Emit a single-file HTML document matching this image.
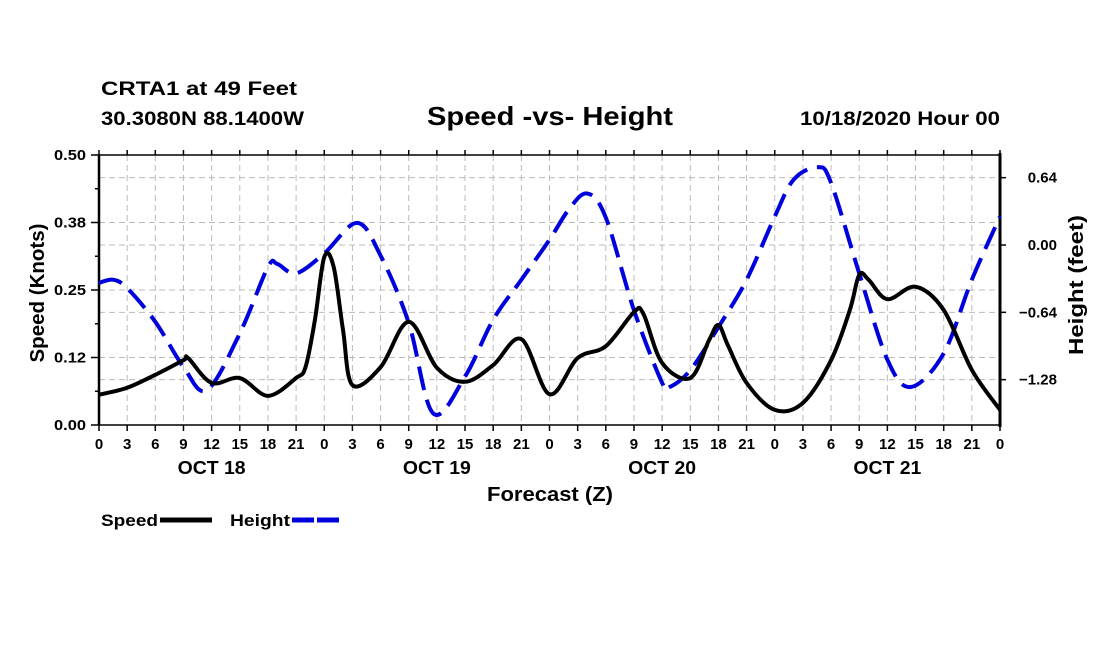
<!DOCTYPE html>
<html><head><meta charset="utf-8"><style>
body{margin:0;background:#fff;}
svg text{font-family:"Liberation Sans",Arial,sans-serif;font-weight:bold;fill:#000;}
</style></head><body>
<svg id="chart" width="1100" height="650" xmlns="http://www.w3.org/2000/svg">
<rect width="1100" height="650" fill="#fff"/>
<text x="101" y="95" font-size="19" textLength="196" lengthAdjust="spacingAndGlyphs">CRTA1 at 49 Feet</text>
<text x="101" y="125" font-size="19" textLength="203" lengthAdjust="spacingAndGlyphs">30.3080N 88.1400W</text>
<text x="427" y="125" font-size="26" textLength="246" lengthAdjust="spacingAndGlyphs">Speed -vs- Height</text>
<text x="800" y="125" font-size="19" textLength="200" lengthAdjust="spacingAndGlyphs">10/18/2020 Hour 00</text>
<g id="grid"></g>
<g id="axes"></g>
<g id="series"></g>
<text x="487" y="501" font-size="20" textLength="126" lengthAdjust="spacingAndGlyphs">Forecast (Z)</text>
<text transform="translate(44,293) rotate(-90)" font-size="20" text-anchor="middle" textLength="139" lengthAdjust="spacingAndGlyphs">Speed (Knots)</text>
<text transform="translate(1083,285) rotate(-90)" font-size="20" text-anchor="middle" textLength="140" lengthAdjust="spacingAndGlyphs">Height (feet)</text>
<g>
<text x="101" y="526" font-size="17" textLength="57" lengthAdjust="spacingAndGlyphs">Speed</text>
<line x1="160" y1="520" x2="212" y2="520" stroke="#000" stroke-width="5"/>
<text x="230" y="526" font-size="17" textLength="60" lengthAdjust="spacingAndGlyphs">Height</text>
<line x1="292" y1="520" x2="342" y2="520" stroke="#0000dd" stroke-width="5" stroke-dasharray="22 3"/>
</g>
</svg>
<script>
const speedHours=[0,3,6,9,9.5,12,15,18,21,22,23,24,25,26,27,30,33,36,39,42,45,48,51,54,57,58,60,63,65,66,67,69,72,75,78,80,81,82,84,87,90,93,96];
const speedValues=[0.056,0.069,0.093,0.120,0.124,0.078,0.087,0.054,0.087,0.107,0.194,0.311,0.293,0.176,0.074,0.107,0.191,0.106,0.080,0.111,0.159,0.057,0.124,0.146,0.209,0.206,0.115,0.087,0.157,0.185,0.148,0.078,0.028,0.041,0.120,0.213,0.278,0.269,0.233,0.256,0.213,0.102,0.028];
const heightHours=[0,1.5,3,6,9,11.5,15,18,19,21,24,27.5,30,33,35.6,39,42,45,48,50,52,54,57,60,60.8,63,66,69,72,74,76.6,78,81,84,86.5,90,93,96];
const heightValues=[-0.36,-0.33,-0.41,-0.73,-1.16,-1.38,-0.84,-0.21,-0.18,-0.27,-0.08,0.21,-0.10,-0.74,-1.60,-1.25,-0.71,-0.33,0.05,0.33,0.49,0.26,-0.62,-1.31,-1.35,-1.19,-0.78,-0.33,0.27,0.62,0.74,0.59,-0.27,-1.09,-1.35,-1.03,-0.33,0.27];
const leftTicks=[0,0.125,0.25,0.375,0.5];
const leftTickLabels=["0.00","0.12","0.25","0.38","0.50"];
const rightTicks=[0.64,0,-0.64,-1.28];
const rightTickLabels=["0.64","0.00","-0.64","-1.28"];
const hourTickLabels=["0","3","6","9","12","15","18","21"];
const dayLabels=["OCT 18","OCT 19","OCT 20","OCT 21"];

const X0=99,X1=1000,Y0=425,Y1=155;
const x=h=>X0+(h/96)*(X1-X0);
const yL=v=>Y0-(v/0.5)*(Y0-Y1);
const yR=v=>245-v*105.2;
const NS="http://www.w3.org/2000/svg";
function mk(tag,attrs,parent){const e=document.createElementNS(NS,tag);for(const k in attrs)e.setAttribute(k,attrs[k]);parent.appendChild(e);return e;}
const grid=document.getElementById('grid'),axes=document.getElementById('axes'),series=document.getElementById('series');

for(let i=1;i<32;i++){
  const l=mk('line',{x1:x(i*3),x2:x(i*3),y1:Y1,y2:Y0,stroke:'#bbb','stroke-width':1,'stroke-dasharray':'6 4'},grid);
  
  
}
leftTicks.slice(1,-1).forEach(v=>{
  const l=mk('line',{x1:X0,x2:X1,y1:yL(v),y2:yL(v),stroke:'#bbb','stroke-width':1,'stroke-dasharray':'6 4'},grid);
  
  
});
rightTicks.forEach(v=>{
  const l=mk('line',{x1:X0,x2:X1,y1:yR(v),y2:yR(v),stroke:'#bbb','stroke-width':1,'stroke-dasharray':'6 4'},grid);
  
  
});
const fr=mk('path',{d:`M${X0},${Y1}H${X1}M${X0},${Y0}H${X1}`,stroke:'#000','stroke-width':1.5,fill:'none'},axes);


const la=mk('line',{x1:X0,x2:X0,y1:Y1,y2:Y0,stroke:'#000','stroke-width':2.5},axes);


const ra=mk('line',{x1:X1,x2:X1,y1:Y1-2,y2:Y0+2,stroke:'#000','stroke-width':3},axes);


for(let i=0;i<=32;i++){
  mk('line',{x1:x(i*3),x2:x(i*3),y1:Y1,y2:Y1-5,stroke:'#000','stroke-width':1.5},axes);
  mk('line',{x1:x(i*3),x2:x(i*3),y1:Y0,y2:Y0+6,stroke:'#000','stroke-width':1.5},axes);
  const t=mk('text',{x:x(i*3),y:449,'font-size':15,'text-anchor':'middle'},axes);
  t.textContent=i===32?"0":hourTickLabels[i%8];
  
  
}
dayLabels.forEach((d,i)=>{
  const t=mk('text',{x:x(i*24+12),y:474,'font-size':18,'text-anchor':'middle',textLength:68,lengthAdjust:'spacingAndGlyphs'},axes);
  t.textContent=d;
  
  
});
for(let i=0;i<=8;i++){mk('line',{x1:X0,x2:X0-(i%2?4:8),y1:yL(i*0.0625),y2:yL(i*0.0625),stroke:'#000','stroke-width':1.5},axes);}
leftTicks.forEach((v,i)=>{
  const t=mk('text',{x:X0-13,y:yL(v)+5,'font-size':15,'text-anchor':'end',textLength:32,lengthAdjust:'spacingAndGlyphs'},axes);
  t.textContent=leftTickLabels[i];
  
  
});
rightTicks.forEach((v,i)=>{
  mk('line',{x1:X1,x2:X1+6,y1:yR(v),y2:yR(v),stroke:'#000','stroke-width':1.5},axes);
  const t=mk('text',{x:1057,y:yR(v)+5,'font-size':15,'text-anchor':'end'},axes);
  t.textContent=rightTickLabels[i].replace('-','\u2212');
  
  
});
function smooth(pts){
  let d=`M${pts[0][0]},${pts[0][1]}`;
  for(let i=0;i<pts.length-1;i++){
    const p0=pts[Math.max(0,i-1)],p1=pts[i],p2=pts[i+1],p3=pts[Math.min(pts.length-1,i+2)];
    const c1=[p1[0]+(p2[0]-p0[0])/6,p1[1]+(p2[1]-p0[1])/6];
    const c2=[p2[0]-(p3[0]-p1[0])/6,p2[1]-(p3[1]-p1[1])/6];
    d+=`C${c1[0]},${c1[1]} ${c2[0]},${c2[1]} ${p2[0]},${p2[1]}`;
  }
  return d;
}
const hp=mk('path',{d:smooth(heightHours.map((h,i)=>[x(h),yR(heightValues[i])])),fill:'none',stroke:'#0000dd','stroke-width':4,'stroke-dasharray':'24 10'},series);


const sp=mk('path',{d:smooth(speedHours.map((h,i)=>[x(h),yL(speedValues[i])])),fill:'none',stroke:'#000','stroke-width':4,'stroke-linejoin':'round'},series);


</script>
</body></html>
